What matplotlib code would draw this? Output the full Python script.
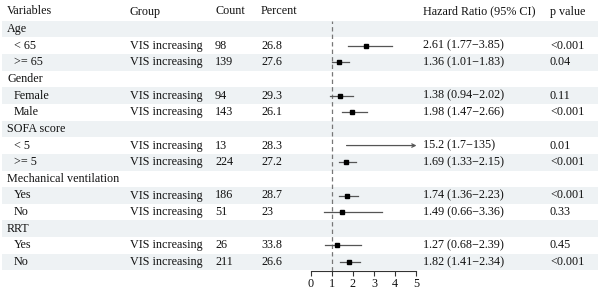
import matplotlib
matplotlib.use("Agg")
import matplotlib.pyplot as plt
from matplotlib.patches import Rectangle

plt.rcParams["font.family"] = ["Liberation Serif", "DejaVu Serif"]

# table rows (None group = section heading)
variables = ["Age", "< 65", ">= 65", "Gender", "Female", "Male", "SOFA score", "< 5", ">= 5",
             "Mechanical ventilation", "Yes", "No", "RRT", "Yes", "No"]
groups = [None, "VIS increasing", "VIS increasing", None, "VIS increasing", "VIS increasing",
          None, "VIS increasing", "VIS increasing", None, "VIS increasing", "VIS increasing",
          None, "VIS increasing", "VIS increasing"]
counts = ["", "98", "139", "", "94", "143", "", "13", "224", "", "186", "51", "", "26", "211"]
percents = ["", "26.8", "27.6", "", "29.3", "26.1", "", "28.3", "27.2", "", "28.7", "23", "", "33.8", "26.6"]
hr = [None, 2.61, 1.36, None, 1.38, 1.98, None, 15.2, 1.69, None, 1.74, 1.49, None, 1.27, 1.82]
lo = [None, 1.77, 1.01, None, 0.94, 1.47, None, 1.7, 1.33, None, 1.36, 0.66, None, 0.68, 1.41]
hi = [None, 3.85, 1.83, None, 2.02, 2.66, None, 135, 2.15, None, 2.23, 3.36, None, 2.39, 2.34]
hr_text = ["", "2.61 (1.77\u22123.85)", "1.36 (1.01\u22121.83)", "", "1.38 (0.94\u22122.02)",
           "1.98 (1.47\u22122.66)", "", "15.2 (1.7\u2212135)", "1.69 (1.33\u22122.15)", "",
           "1.74 (1.36\u22122.23)", "1.49 (0.66\u22123.36)", "", "1.27 (0.68\u22122.39)",
           "1.82 (1.41\u22122.34)"]
pvals = ["", "<0.001", "0.04", "", "0.11", "<0.001", "", "0.01", "<0.001", "",
         "<0.001", "0.33", "", "0.45", "<0.001"]
headers = ["Variables", "Group", "Count", "Percent", "Hazard Ratio (95% CI)", "p value"]
x_ticks = [0, 1, 2, 3, 4, 5]

W, H = 600, 292
fig = plt.figure(figsize=(W / 100, H / 100), dpi=100)
ax = fig.add_axes([0, 0, 1, 1])
ax.set_xlim(0, W)
ax.set_ylim(H, 0)
ax.axis("off")

fs = 8.7
tc = "#111111"
row0, step = 29.0, 16.65
head_y = 11.5
col_x = [7, 130, 215, 261, 423, 550]

for j, h in enumerate(headers):
    ax.text(col_x[j], head_y, h, fontsize=fs, color=tc, va="center")

for i, v in enumerate(variables):
    y = row0 + i * step
    if i % 2 == 0:
        ax.add_patch(Rectangle((2, y - step / 2), W - 4, step, color="#eef2f4", lw=0, zorder=0))
    if groups[i] is None:
        ax.text(col_x[0], y, v, fontsize=fs, color=tc, va="center")
        continue
    ax.text(14, y, v, fontsize=fs, color=tc, va="center")
    ax.text(col_x[1], y, groups[i], fontsize=fs, color=tc, va="center")
    ax.text(col_x[2], y, counts[i], fontsize=fs, color=tc, va="center")
    ax.text(col_x[3], y, percents[i], fontsize=fs, color=tc, va="center")
    ax.text(col_x[4], y, hr_text[i], fontsize=fs, color=tc, va="center")
    ax.text(col_x[5], y, pvals[i], fontsize=fs, color=tc, va="center")

# forest panel
top, bottom = 20.5, 270.5
x0, x1 = 310.5, 416.5
fx = fig.add_axes([x0 / W, 1 - bottom / H, (x1 - x0) / W, (bottom - top) / H])
fx.set_xlim(0, 5)
fx.set_ylim(bottom, top)
fx.patch.set_alpha(0)
for s in ["top", "right", "left"]:
    fx.spines[s].set_visible(False)
fx.spines["bottom"].set_color("#333333")
fx.spines["bottom"].set_linewidth(0.8)
fx.set_yticks([])
fx.set_xticks(x_ticks)
fx.tick_params(axis="x", length=3.5, width=0.8, color="#333333", labelsize=fs,
               labelcolor=tc, pad=2)
fx.axvline(1, color="#777777", lw=0.9, ls=(0, (3.5, 2.5)), zorder=1)

for i in range(len(variables)):
    if hr[i] is None:
        continue
    y = row0 + i * step
    if hi[i] > 5:
        fx.annotate("", xy=(5, y), xytext=(lo[i], y),
                    arrowprops=dict(arrowstyle="->", color="#555555", lw=0.9,
                                    shrinkA=0, shrinkB=0, mutation_scale=6))
    else:
        fx.plot([lo[i], hi[i]], [y, y], color="#555555", lw=0.9, zorder=2)
    if hr[i] <= 5:
        fx.plot(hr[i], y, marker="s", ms=3.2, color="black", zorder=3)

fig.savefig("out.png", dpi=100)
